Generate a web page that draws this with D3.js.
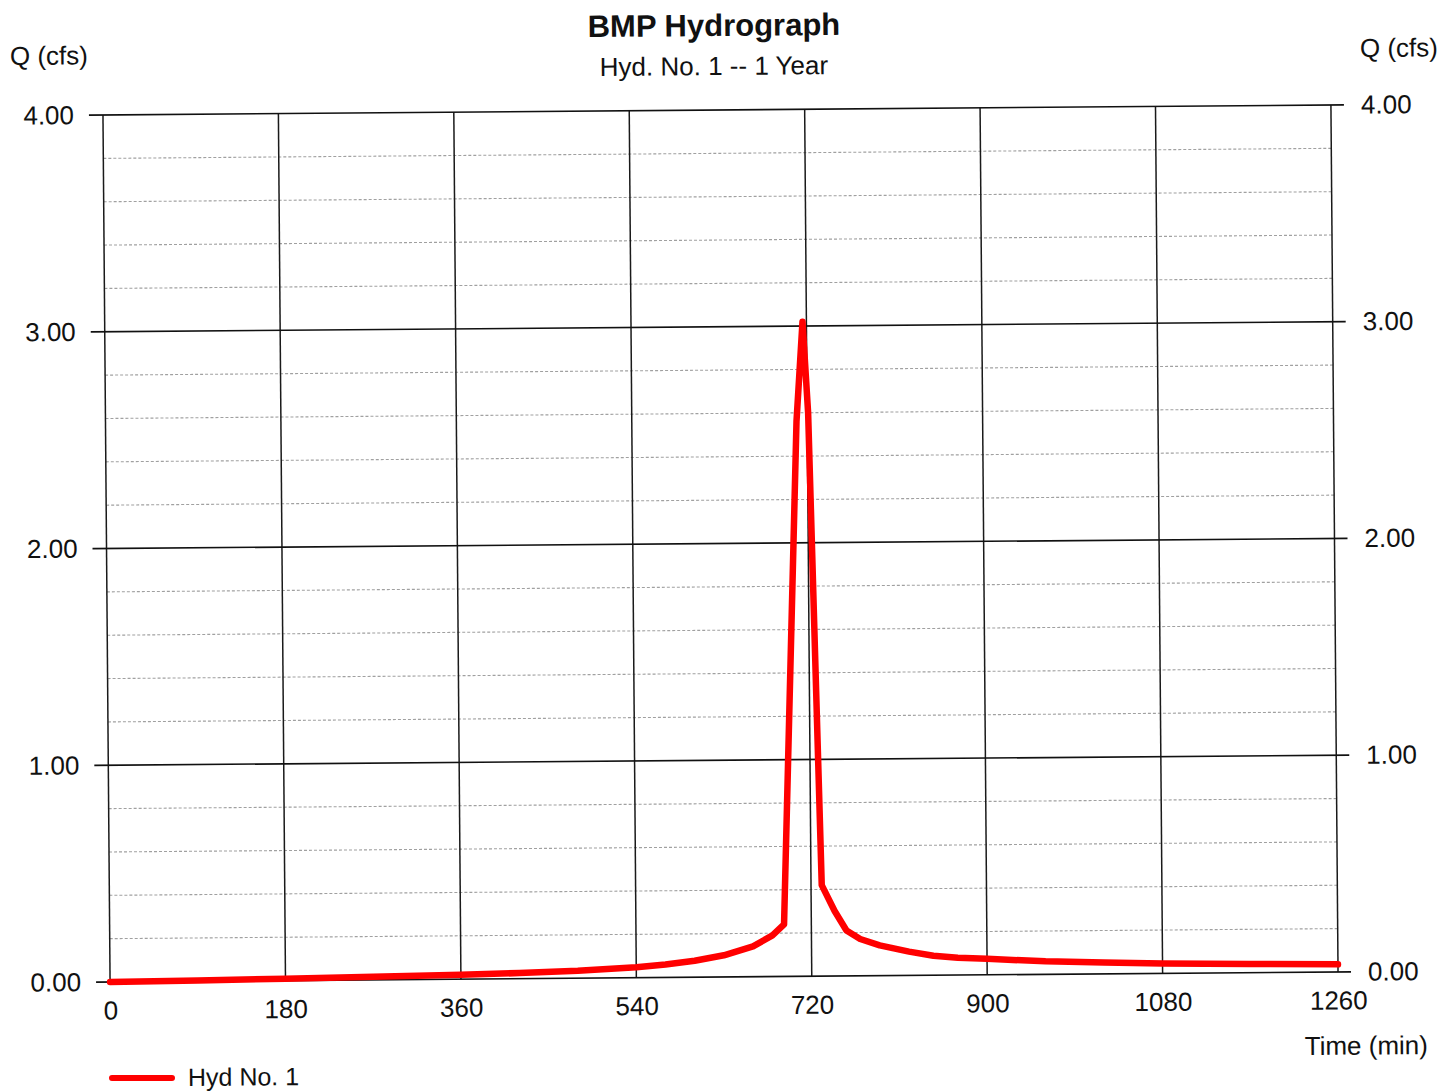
<!DOCTYPE html>
<html>
<head>
<meta charset="utf-8">
<script src="https://cdn.jsdelivr.net/npm/d3@7"></script>
<style>
  html, body { margin: 0; padding: 0; background: #fff; }
  svg { display: block; font-family: "Liberation Sans", Arial, sans-serif; }
</style>
</head>
<body>
<svg id="chart" width="1442" height="1091"></svg>
<script>
// ---- Data ----
const times = [0, 90, 180, 270, 360, 420, 480, 540, 570, 600, 630, 660, 680, 692, 709, 716, 721, 731, 744, 756, 770, 790, 820, 845, 870, 900, 960, 1020, 1080, 1170, 1260];
const flows = [0, 0.004, 0.009, 0.014, 0.02, 0.026, 0.034, 0.048, 0.06, 0.076, 0.1, 0.14, 0.19, 0.24, 2.56, 3.02, 2.6, 0.42, 0.3, 0.21, 0.17, 0.14, 0.11, 0.09, 0.08, 0.074, 0.06, 0.052, 0.046, 0.04, 0.035];
const xTickValues = [0, 180, 360, 540, 720, 900, 1080, 1260];
const yTickValues = [0, 1, 2, 3, 4];
const yMinorValues = [0.2, 0.4, 0.6, 0.8, 1.2, 1.4, 1.6, 1.8, 2.2, 2.4, 2.6, 2.8, 3.2, 3.4, 3.6, 3.8];
const titleText = "BMP Hydrograph";
const subtitleText = "Hyd. No. 1 -- 1 Year";
const yLabelText = "Q (cfs)";
const xLabelText = "Time (min)";
const seriesName = "Hyd No. 1";

// ---- Layout ----
const svg = d3.select("#chart");
const plotLeft = 106.5, plotTop = 110, W = 1228, H = 867;
const cx = plotLeft + W / 2, cy = plotTop + H / 2;
const angle = -0.47; // scan skew
const phi = -angle * Math.PI / 180;
function unrot(px, py) {
  const dx = px - cx, dy = py - cy;
  return [cx + dx * Math.cos(phi) - dy * Math.sin(phi), cy + dx * Math.sin(phi) + dy * Math.cos(phi)];
}

const root = svg.append("g").attr("transform", `rotate(${angle},${cx},${cy})`);
const g = root.append("g").attr("transform", `translate(${plotLeft},${plotTop})`);

const x = d3.scaleLinear().domain([0, 1260]).range([0, W]);
const y = d3.scaleLinear().domain([0, 4]).range([H, 0]);

// minor horizontal grid
g.append("g").selectAll("line").data(yMinorValues).join("line")
  .attr("x1", 0).attr("x2", W)
  .attr("y1", d => y(d)).attr("y2", d => y(d))
  .attr("stroke", "#a0a0a0").attr("stroke-width", 1.1).attr("stroke-dasharray", "3,2");

// vertical grid
g.append("g").selectAll("line").data(xTickValues).join("line")
  .attr("x1", d => x(d)).attr("x2", d => x(d))
  .attr("y1", 0).attr("y2", H)
  .attr("stroke", "#1a1a1a").attr("stroke-width", 1.5);

// major horizontal grid, extending as ticks on both sides
g.append("g").selectAll("line").data(yTickValues).join("line")
  .attr("x1", -14).attr("x2", W + 13)
  .attr("y1", d => y(d)).attr("y2", d => y(d))
  .attr("stroke", "#111").attr("stroke-width", 1.6);

const FONT = "Liberation Sans, Arial, sans-serif";
// left axis labels
const axL = g.append("g").call(d3.axisLeft(y).tickValues(yTickValues).tickFormat(d3.format(".2f")).tickSize(0).tickPadding(29));
axL.select(".domain").remove();
axL.selectAll("text").attr("font-size", 26).attr("font-family", FONT).attr("fill", "#111");

// right axis labels
const axR = g.append("g").attr("transform", `translate(${W},0)`)
  .call(d3.axisRight(y).tickValues(yTickValues).tickFormat(d3.format(".2f")).tickSize(0).tickPadding(30));
axR.select(".domain").remove();
axR.selectAll("text").attr("font-size", 26).attr("font-family", FONT).attr("fill", "#111");

// bottom axis labels
const axB = g.append("g").attr("transform", `translate(0,${H})`)
  .call(d3.axisBottom(x).tickValues(xTickValues).tickFormat(d3.format("d")).tickSize(0).tickPadding(19));
axB.select(".domain").remove();
axB.selectAll("text").attr("font-size", 26).attr("font-family", FONT).attr("fill", "#111");

// series line
const line = d3.line().x((d, i) => x(times[i])).y(d => y(d)).curve(d3.curveLinear);
g.append("path").datum(flows)
  .attr("d", line)
  .attr("fill", "none").attr("stroke", "#ff0000").attr("stroke-width", 6.5)
  .attr("stroke-linejoin", "round").attr("stroke-linecap", "round");

// titles and labels
function text(px, py, str, opts) {
  const [ux, uy] = unrot(px, py);
  return root.append("text").attr("x", ux).attr("y", uy).text(str)
    .attr("font-size", opts.size).attr("font-weight", opts.weight || "normal")
    .attr("font-family", FONT)
    .attr("text-anchor", opts.anchor || "start").attr("fill", "#111");
}
text(714, 36, titleText, { size: 31, weight: "bold", anchor: "middle" });
text(714, 75, subtitleText, { size: 26, anchor: "middle" });
text(10, 65, yLabelText, { size: 26 });
text(1360, 57, yLabelText, { size: 26 });
text(1428, 1054, xLabelText, { size: 26, anchor: "end" });

// legend
const [lx1, ly1] = unrot(112, 1078);
const [lx2, ly2] = unrot(172, 1078);
root.append("line").attr("x1", lx1).attr("y1", ly1).attr("x2", lx2).attr("y2", ly2)
  .attr("stroke", "#ff0000").attr("stroke-width", 6).attr("stroke-linecap", "round");
text(188, 1086, seriesName, { size: 25 });
</script>
</body>
</html>
